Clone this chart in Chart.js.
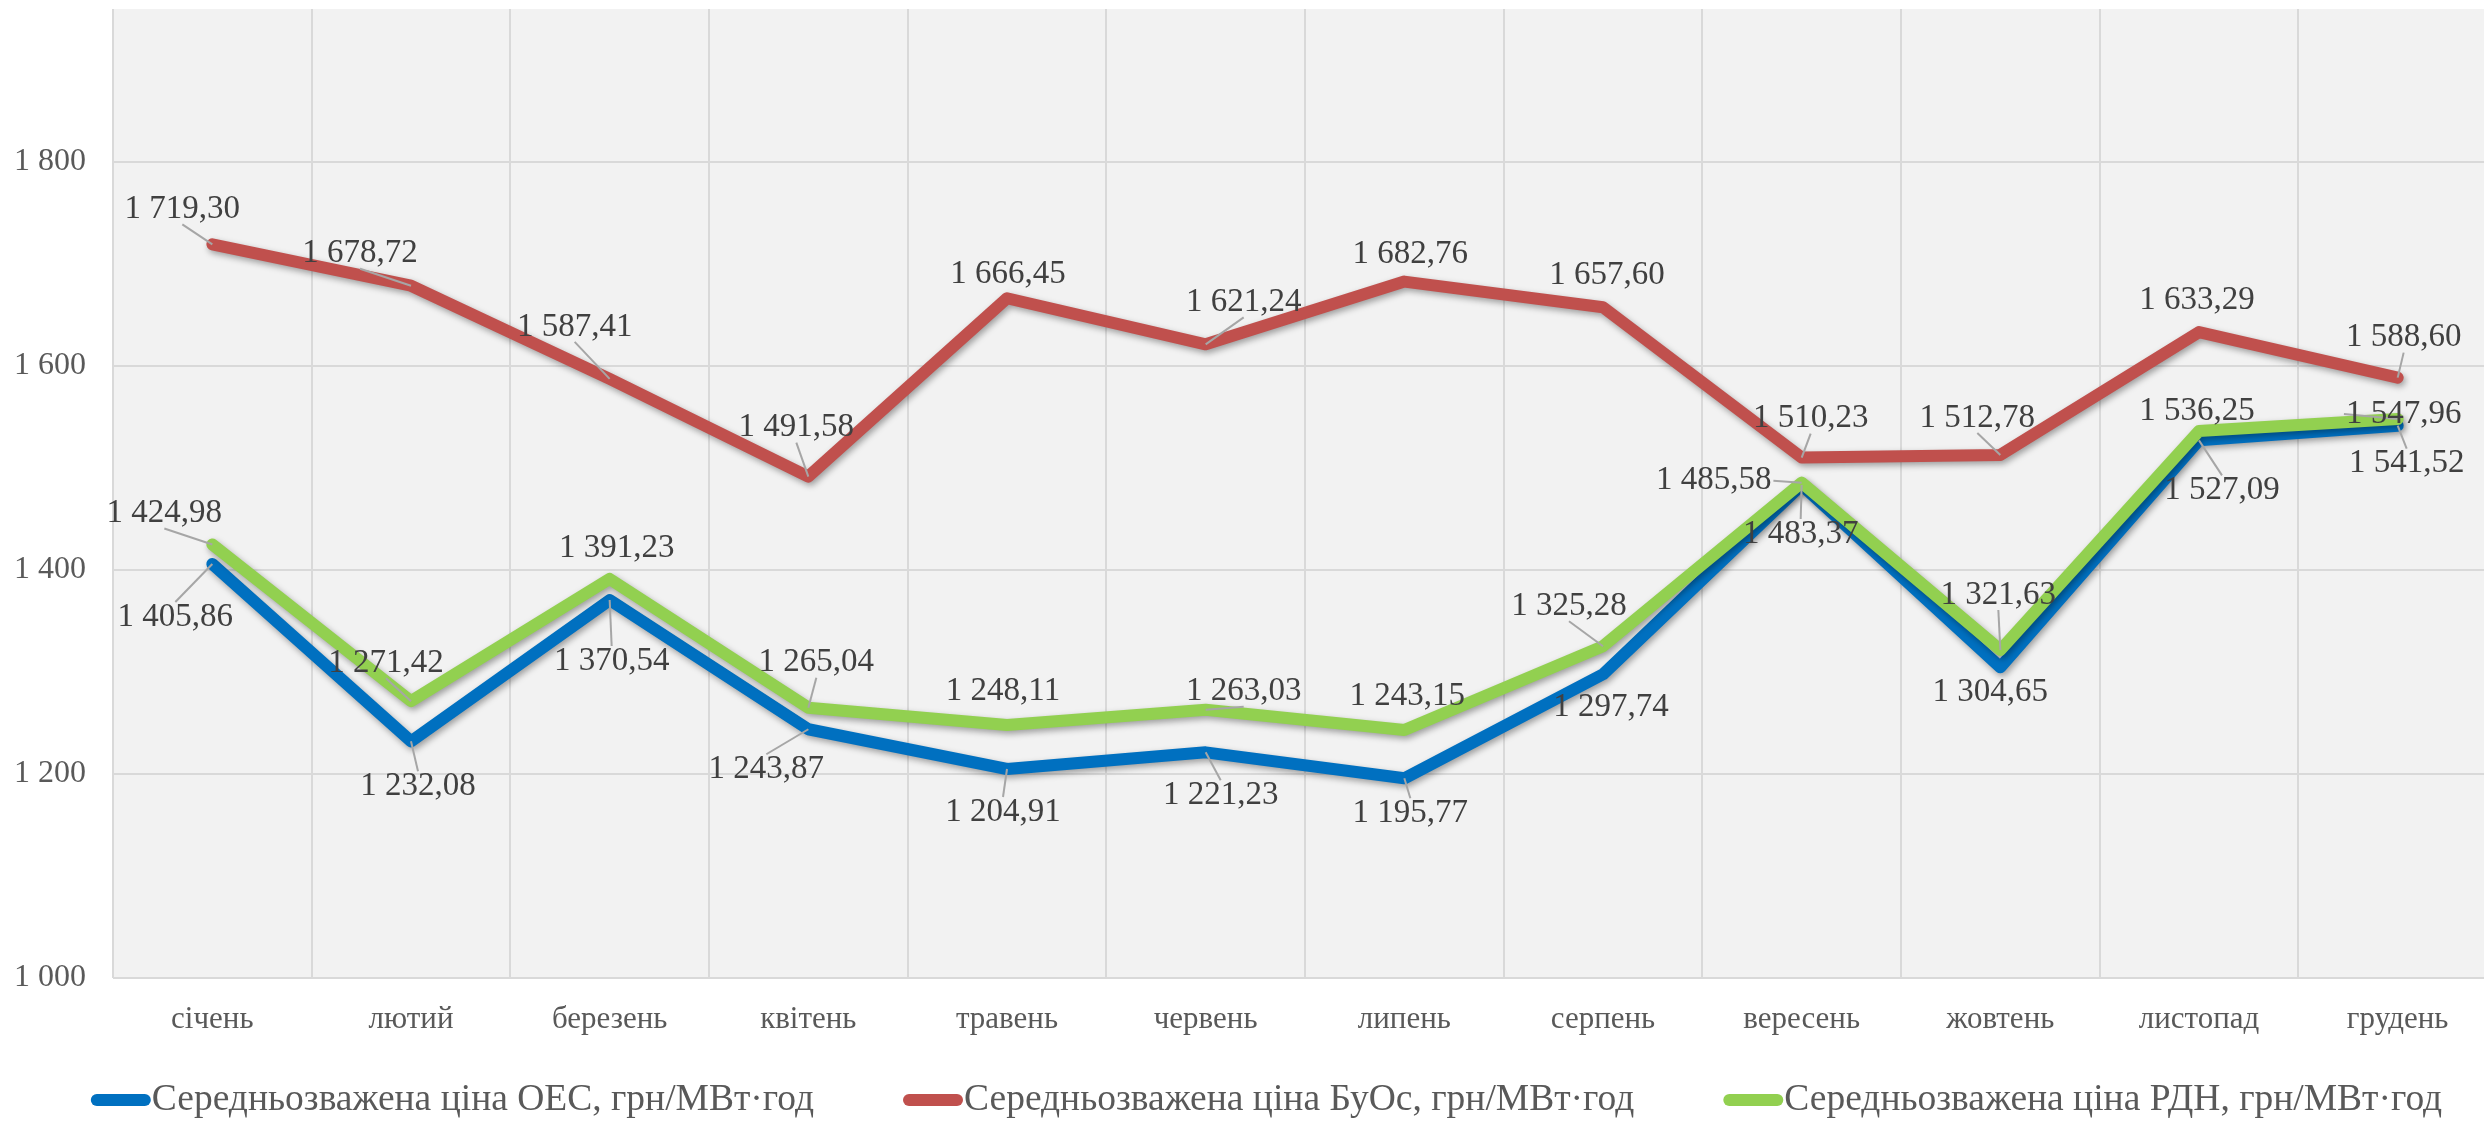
<!DOCTYPE html>
<html>
<head>
<meta charset="utf-8">
<script src="https://cdn.jsdelivr.net/npm/chart.js@4.4.0/dist/chart.umd.min.js"></script>
<style>
html, body { margin: 0; padding: 0; background: #fff; overflow: hidden; }
#wrap { position: relative; width: 2500px; height: 1123px; }
</style>
</head>
<body>
<div id="wrap"><canvas id="chart" width="2500" height="1123"></canvas></div>
<script>
var months = ['січень', 'лютий', 'березень', 'квітень', 'травень', 'червень',
              'липень', 'серпень', 'вересень', 'жовтень', 'листопад', 'грудень'];

var cinaOes  = [1405.86, 1232.08, 1370.54, 1243.87, 1204.91, 1221.23, 1195.77, 1297.74, 1483.37, 1304.65, 1527.09, 1541.52];
var cinaBuos = [1719.30, 1678.72, 1587.41, 1491.58, 1666.45, 1621.24, 1682.76, 1657.60, 1510.23, 1512.78, 1633.29, 1588.60];
var cinaRdn  = [1424.98, 1271.42, 1391.23, 1265.04, 1248.11, 1263.03, 1243.15, 1325.28, 1485.58, 1321.63, 1536.25, 1547.96];

var yTicks = [1000, 1200, 1400, 1600, 1800];

var nameOes  = 'Середньозважена ціна ОЕС, грн/МВт·год';
var nameBuos = 'Середньозважена ціна БуОс, грн/МВт·год';
var nameRdn  = 'Середньозважена ціна РДН, грн/МВт·год';

// where each value label sits relative to its point (px)
var shiftOes  = [[-37,53],[7,45],[2,61],[-42,40],[-4,43],[15,43],[6,35],[8,33],[-1,49],[-10,25],[23,50],[9,38]];
var shiftBuos = [[-30,-35],[-51,-32],[-35,-52],[-12,-49],[1,-24],[38,-42],[6,-27],[4,-32],[9,-39],[-23,-37],[-2,-32],[6,-40]];
var shiftRdn  = [[-48,-31],[-25,-38],[7,-31],[8,-45],[-4,-34],[38,-18],[3,-34],[-34,-40],[-88,-2],[-2,-55],[-2,-20],[6,-5]];

var serif = "'Liberation Serif', 'Times New Roman', serif";

function formatNum(v, dec) {
    var parts = v.toFixed(dec).split('.');
    var whole = parts[0].replace(/\B(?=(\d{3})+(?!\d))/g, ' ');
    return dec ? whole + ',' + parts[1] : whole;
}

var plotBack = {
    id: 'plotBack',
    beforeDraw: function(chart) {
        var a = chart.chartArea, ctx = chart.ctx;
        ctx.save();
        ctx.fillStyle = '#F2F2F2';
        ctx.fillRect(a.left, a.top, a.right - a.left, a.bottom - a.top);
        ctx.restore();
    }
};

var lineShadow = {
    id: 'lineShadow',
    beforeDatasetDraw: function(chart) {
        var ctx = chart.ctx;
        ctx.save();
        ctx.shadowColor = 'rgba(0,0,0,0.35)';
        ctx.shadowBlur = 6;
        ctx.shadowOffsetX = 2;
        ctx.shadowOffsetY = 3;
    },
    afterDatasetDraw: function(chart) {
        chart.ctx.restore();
    }
};

var valueLabels = {
    id: 'valueLabels',
    afterDatasetsDraw: function(chart) {
        var ctx = chart.ctx;
        ctx.save();
        ctx.font = '33px ' + serif;
        ctx.textAlign = 'center';
        ctx.textBaseline = 'middle';
        chart.data.datasets.forEach(function(ds, di) {
            var meta = chart.getDatasetMeta(di);
            meta.data.forEach(function(pt, i) {
                var txt = formatNum(ds.data[i], 2);
                var dx = ds.shift[i][0], dy = ds.shift[i][1];
                var lx = pt.x + dx, ly = pt.y + dy;
                var w = ctx.measureText(txt).width / 2 + 2;
                var h = 15;
                // leader line hooks onto the middle of the nearest label edge
                var ax, ay;
                if (Math.abs(dy) > h) {
                    ax = lx;
                    ay = dy < 0 ? ly + h : ly - h;
                } else {
                    ax = dx < 0 ? lx + w : lx - w;
                    ay = ly;
                }
                var d = Math.sqrt((ax - pt.x) * (ax - pt.x) + (ay - pt.y) * (ay - pt.y));
                if (d > 20) {
                    ctx.strokeStyle = '#A6A6A6';
                    ctx.lineWidth = 2;
                    ctx.beginPath();
                    ctx.moveTo(ax, ay);
                    ctx.lineTo(pt.x, pt.y);
                    ctx.stroke();
                }
                ctx.fillStyle = '#404040';
                ctx.fillText(txt, lx, ly);
            });
        });
        ctx.restore();
    }
};

var bottomLegend = {
    id: 'bottomLegend',
    afterDraw: function(chart) {
        var ctx = chart.ctx;
        var items = chart.data.datasets.slice().sort(function(a, b) { return a.legendPos - b.legendPos; });
        ctx.save();
        ctx.font = '37.5px ' + serif;
        ctx.textBaseline = 'middle';
        var gap = 90, mark = 60;
        var total = 0;
        items.forEach(function(ds, k) {
            total += mark + ctx.measureText(ds.label).width + (k ? gap : 0);
        });
        var x = 1266 - total / 2;
        var y = 1100;
        items.forEach(function(ds) {
            ctx.strokeStyle = ds.borderColor;
            ctx.lineWidth = 12;
            ctx.lineCap = 'round';
            ctx.beginPath();
            ctx.moveTo(x + 6, y);
            ctx.lineTo(x + mark - 6, y);
            ctx.stroke();
            ctx.fillStyle = '#595959';
            ctx.fillText(ds.label, x + mark + 1, y);
            x += mark + ctx.measureText(ds.label).width + gap;
        });
        ctx.restore();
    }
};

function lineSet(label, data, color, shift, order, legendPos) {
    return {
        label: label,
        data: data,
        borderColor: color,
        backgroundColor: color,
        borderWidth: 12,
        borderCapStyle: 'round',
        borderJoinStyle: 'round',
        pointRadius: 0,
        pointHoverRadius: 0,
        tension: 0,
        fill: false,
        order: order,
        shift: shift,
        legendPos: legendPos
    };
}

var ctx = document.getElementById('chart').getContext('2d');
var chart = new Chart(ctx, {
    type: 'line',
    data: {
        labels: months,
        datasets: [
            lineSet(nameOes, cinaOes, '#0070C0', shiftOes, 2, 0),
            lineSet(nameBuos, cinaBuos, '#C0504D', shiftBuos, 1, 1),
            lineSet(nameRdn, cinaRdn, '#92D050', shiftRdn, 0, 2)
        ]
    },
    options: {
        responsive: false,
        animation: false,
        devicePixelRatio: 1,
        layout: { padding: { top: 9, right: 3, bottom: 0, left: 0 } },
        plugins: {
            legend: { display: false },
            tooltip: { enabled: false }
        },
        scales: {
            x: {
                offset: true,
                grid: { offset: true, color: '#D9D9D9', lineWidth: 2, drawTicks: false },
                border: { display: false },
                ticks: { color: '#595959', font: { family: serif, size: 31 }, padding: 23, maxRotation: 0 },
                afterFit: function(scale) { scale.height = 145; }
            },
            y: {
                min: 1000,
                max: 1950,
                grid: { color: '#D9D9D9', lineWidth: 2, drawTicks: false },
                border: { display: false },
                afterBuildTicks: function(scale) {
                    scale.ticks = yTicks.map(function(v) { return { value: v }; });
                },
                ticks: {
                    color: '#595959',
                    font: { family: serif, size: 32 },
                    padding: 27,
                    callback: function(v) { return formatNum(v, 0); }
                },
                afterFit: function(scale) {
                    scale.width = 113;
                    scale.paddingTop = 0;
                    scale.paddingBottom = 0;
                }
            }
        }
    },
    plugins: [plotBack, lineShadow, valueLabels, bottomLegend]
});
</script>
</body>
</html>
